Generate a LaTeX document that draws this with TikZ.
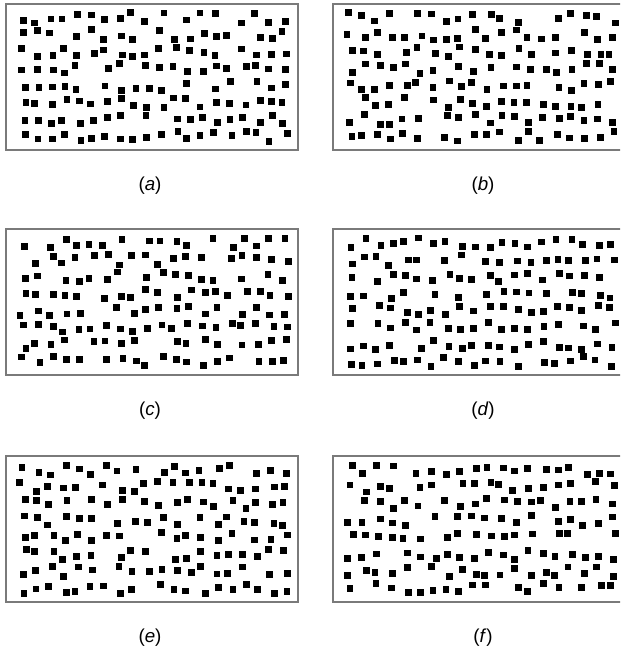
\documentclass[tikz,border=0pt]{standalone}
\usepackage{fontspec}
\setmainfont{Liberation Sans}
\definecolor{framegray}{HTML}{7A7A7A}

\begin{document}
\begin{tikzpicture}[
      x=0.3mm, y=-0.3mm,
      panel/.style={draw=framegray, line width=0.9pt},
      grain/.style={fill=black},
      caption/.style={font=\fontsize{16}{19}\selectfont}
    ]
      \useasboundingbox (0,0) rectangle (620,653);
      \clip (0,0) rectangle (620,653);
      % six packings, one seed each
      \foreach \pid/\lx/\ty/\cx/\seed in
        {a/6/4/150/11, b/333/4/483/23, c/6/229/150/37,
         d/333/229/483/41, e/6/456/150/53, f/333/456/483/67} {
        \pgfmathsetseed{\seed}
        \draw[panel] (\lx,\ty) rectangle ++(292,146);
        \foreach \col in {0,...,19} {
          \foreach \row in {0,...,7} {
            \pgfmathtruncatemacro{\keep}{rnd<0.9 ? 1 : 0}
            \pgfmathsetmacro{\sx}{\lx+17+\col*13.8+3.4*rand}
            \pgfmathsetmacro{\sy}{\ty+14+\row*16.9+5.2*rand}
            \ifnum\keep=1
              \fill[grain] (\sx-3.4,\sy-3.4) rectangle (\sx+3.4,\sy+3.4);
            \fi
          }
        }
        \node[caption] (label-\pid) at (\cx,\ty+182) {(\textit{\pid})};
      }
    \end{tikzpicture}
\end{document}
